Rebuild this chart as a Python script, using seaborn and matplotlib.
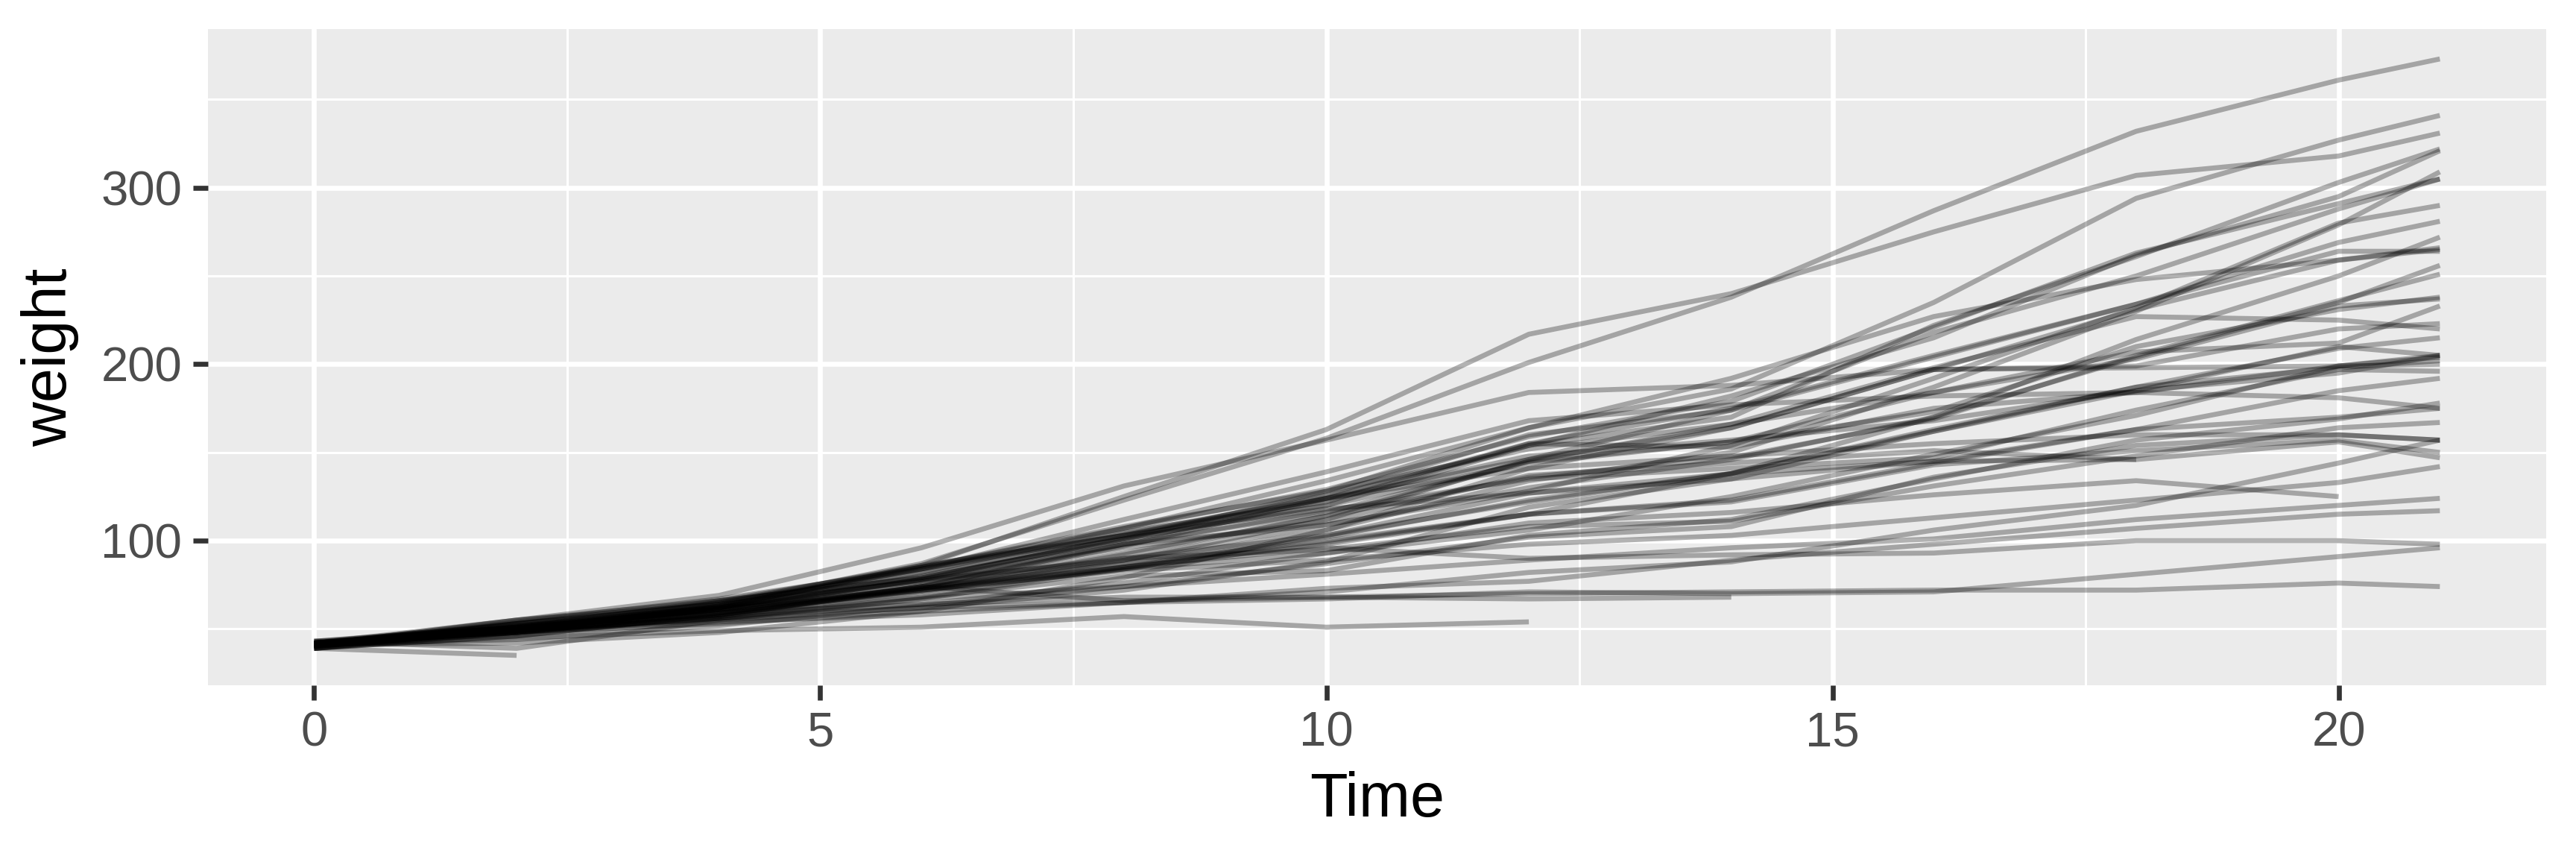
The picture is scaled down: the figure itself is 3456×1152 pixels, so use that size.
import matplotlib
matplotlib.use("Agg")
import matplotlib.pyplot as plt
import seaborn as sns
import pandas as pd
from matplotlib.ticker import MultipleLocator

# measurement days
time = [0, 2, 4, 6, 8, 10, 12, 14, 16, 18, 20, 21]

# body weight per chick, grouped by diet (chicks 1-20, 21-30, 31-40, 41-50)
diet1 = [
    [42, 51, 59, 64, 76, 93, 106, 125, 149, 171, 199, 205],
    [40, 49, 58, 72, 84, 103, 122, 138, 162, 187, 209, 215],
    [43, 39, 55, 67, 84, 99, 115, 138, 163, 187, 198, 202],
    [42, 49, 56, 67, 74, 87, 102, 108, 136, 154, 160, 157],
    [41, 42, 48, 60, 79, 106, 141, 164, 197, 199, 220, 223],
    [41, 49, 59, 74, 97, 124, 141, 148, 155, 160, 160, 157],
    [41, 49, 57, 71, 89, 112, 146, 174, 218, 250, 288, 305],
    [42, 50, 61, 71, 84, 93, 110, 116, 126, 134, 125],
    [42, 51, 59, 68, 85, 96, 90, 92, 93, 100, 100, 98],
    [41, 44, 52, 63, 74, 81, 89, 96, 101, 112, 120, 124],
    [43, 51, 63, 84, 112, 139, 168, 177, 182, 184, 181, 175],
    [41, 49, 56, 62, 72, 88, 119, 135, 162, 185, 195, 205],
    [41, 48, 53, 60, 65, 67, 71, 70, 71, 81, 91, 96],
    [41, 49, 62, 79, 101, 128, 164, 192, 227, 248, 259, 266],
    [41, 49, 56, 64, 68, 68, 67, 68],
    [41, 45, 49, 51, 57, 51, 54],
    [42, 51, 61, 72, 83, 89, 98, 103, 113, 123, 133, 142],
    [39, 35],
    [43, 48, 55, 62, 65, 71, 82, 88, 106, 120, 144, 157],
    [41, 47, 54, 58, 65, 73, 77, 89, 98, 107, 115, 117],
]
diet2 = [
    [40, 50, 62, 86, 125, 163, 217, 240, 275, 307, 318, 331],
    [41, 55, 64, 77, 90, 95, 108, 111, 131, 148, 164, 167],
    [43, 52, 61, 73, 90, 103, 127, 135, 145, 163, 170, 175],
    [42, 52, 58, 74, 66, 68, 70, 71, 72, 72, 76, 74],
    [40, 49, 62, 78, 102, 124, 146, 164, 197, 231, 259, 265],
    [42, 48, 57, 74, 93, 114, 136, 147, 169, 205, 236, 251],
    [39, 46, 58, 73, 87, 100, 115, 123, 144, 163, 185, 192],
    [39, 46, 58, 73, 92, 114, 145, 156, 184, 207, 212, 233],
    [39, 48, 59, 74, 87, 106, 134, 150, 187, 230, 279, 309],
    [42, 48, 59, 72, 85, 98, 115, 122, 143, 151, 157, 150],
]
diet3 = [
    [42, 53, 62, 73, 85, 102, 123, 138, 170, 204, 235, 256],
    [41, 49, 65, 82, 107, 129, 159, 179, 221, 263, 291, 305],
    [39, 50, 63, 77, 96, 111, 137, 144, 151, 146, 156, 147],
    [41, 49, 63, 85, 107, 134, 164, 186, 235, 294, 327, 341],
    [41, 53, 64, 87, 123, 158, 201, 238, 287, 332, 361, 373],
    [39, 48, 61, 76, 98, 116, 145, 166, 198, 227, 225, 220],
    [41, 48, 56, 68, 80, 83, 103, 112, 135, 157, 169, 178],
    [41, 49, 61, 74, 98, 109, 128, 154, 192, 232, 280, 290],
    [42, 50, 61, 78, 89, 109, 130, 146, 170, 214, 250, 272],
    [41, 55, 66, 79, 101, 120, 154, 182, 215, 262, 295, 321],
]
diet4 = [
    [42, 51, 66, 85, 103, 124, 155, 153, 175, 184, 199, 204],
    [42, 49, 63, 84, 103, 126, 160, 174, 204, 234, 269, 281],
    [42, 55, 69, 96, 131, 157, 184, 188, 197, 198, 199, 200],
    [42, 51, 65, 86, 103, 118, 127, 138, 145, 146],
    [41, 50, 61, 78, 98, 117, 135, 141, 147, 174, 197, 196],
    [40, 52, 62, 82, 101, 120, 144, 156, 173, 210, 231, 238],
    [41, 53, 66, 79, 100, 123, 148, 157, 168, 185, 210, 205],
    [39, 50, 62, 80, 104, 125, 154, 170, 222, 261, 303, 322],
    [40, 53, 64, 85, 108, 128, 152, 166, 184, 203, 233, 237],
    [41, 54, 67, 84, 105, 122, 155, 175, 205, 234, 264, 264],
]

rows = []
for chick, w in enumerate(diet1 + diet2 + diet3 + diet4, start=1):
    for t, v in zip(time, w):
        rows.append({"Chick": chick, "Time": t, "weight": v})
df = pd.DataFrame(rows)

sns.set_theme(style="darkgrid")
plt.rcParams["font.family"] = ["Liberation Sans", "DejaVu Sans"]

fig, ax = plt.subplots(figsize=(11.52, 3.84), dpi=300)
fig.subplots_adjust(left=0.0807, right=0.9884, top=0.9661, bottom=0.2023)

sns.lineplot(data=df, x="Time", y="weight", units="Chick", estimator=None,
             color="black", alpha=0.3, linewidth=1.6, ax=ax,
             solid_capstyle="butt", solid_joinstyle="round")

ax.set_facecolor("#ebebeb")
for s in ax.spines.values():
    s.set_visible(False)

ax.set_xlim(-1.05, 22.05)
ax.set_ylim(35 - 16.9, 373 + 16.9)
ax.xaxis.set_major_locator(MultipleLocator(5))
ax.xaxis.set_minor_locator(MultipleLocator(2.5))
ax.set_yticks([100, 200, 300])
ax.set_yticks([50, 150, 250, 350], minor=True)

ax.grid(which="major", color="white", linewidth=1.6)
ax.grid(which="minor", color="white", linewidth=0.72)
ax.set_axisbelow(True)

ax.tick_params(which="major", length=4.8, width=1.6, color="#333333",
               labelcolor="#4d4d4d", labelsize=15.7, pad=3.5,
               bottom=True, left=True)
ax.tick_params(which="minor", length=0, bottom=False, left=False)

ax.set_xlabel("Time", fontsize=19.9, color="black", labelpad=5)
ax.set_ylabel("weight", fontsize=19.9, color="black", labelpad=7)

fig.savefig("out.png", dpi=300, facecolor="white")
